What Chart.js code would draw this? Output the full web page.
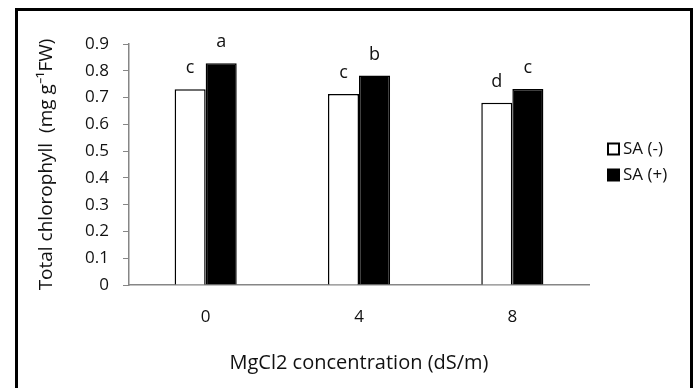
<!DOCTYPE html>
<html>
<head>
<meta charset="utf-8">
<script src="https://cdn.jsdelivr.net/npm/chart.js@4.4.0/dist/chart.umd.min.js"></script>
<style>
  html, body { margin: 0; padding: 0; background: #fff; }
  #wrap { position: relative; width: 695px; height: 388px; overflow: hidden; }
  #frame { position: absolute; left: 15px; top: 8px; width: 672px; height: 400px; border: 3px solid #000; pointer-events: none; }
  canvas { position: absolute; left: 0; top: 0; }
</style>
</head>
<body>
<div id="wrap">
  <canvas id="chart" width="695" height="388"></canvas>
  <div id="frame"></div>
</div>
<script>
// data
const categories = ['0', '4', '8'];
const saMinus = [0.731, 0.713, 0.681];
const saPlus = [0.828, 0.782, 0.732];
const lettersMinus = ['c', 'c', 'd'];
const lettersPlus = ['a', 'b', 'c'];
const yTicks = [0, 0.1, 0.2, 0.3, 0.4, 0.5, 0.6, 0.7, 0.8, 0.9];

const FONT = '"Open Sans", sans-serif';
const axisGray = '#868686';
const textColor = '#111111';

// letters over the bars
const letterPlugin = {
    id: 'letters',
    afterDatasetsDraw(chart) {
        const ctx = chart.ctx;
        const sets = [lettersMinus, lettersPlus];
        ctx.save();
        ctx.font = '18px ' + FONT;
        ctx.fillStyle = textColor;
        ctx.textAlign = 'center';
        ctx.textBaseline = 'middle';
        chart.data.datasets.forEach((ds, i) => {
            chart.getDatasetMeta(i).data.forEach((bar, j) => {
                ctx.fillText(sets[i][j], bar.x, bar.y - 21);
            });
        });
        ctx.restore();
    }
};

// legend on the right, drawn from the datasets
const sideLegend = {
    id: 'sideLegend',
    afterDraw(chart) {
        const ctx = chart.ctx;
        const x = chart.chartArea.right + 19;
        ctx.save();
        ctx.font = '17px ' + FONT;
        ctx.textBaseline = 'middle';
        chart.data.datasets.forEach((ds, i) => {
            const y = 149 + i * 26;
            ctx.fillStyle = ds.backgroundColor;
            ctx.fillRect(x, y - 5.5, 11, 11);
            ctx.strokeStyle = ds.borderColor;
            ctx.lineWidth = 2;
            ctx.strokeRect(x, y - 5.5, 11, 11);
            ctx.fillStyle = textColor;
            ctx.fillText(ds.label, x + 15, y);
        });
        ctx.restore();
    }
};

new Chart(document.getElementById('chart'), {
    type: 'bar',
    data: {
        labels: categories,
        datasets: [
            { label: 'SA (-)', data: saMinus, backgroundColor: '#ffffff', borderColor: '#000000', borderWidth: 1.5 },
            { label: 'SA (+)', data: saPlus, backgroundColor: '#000000', borderColor: '#000000', borderWidth: 1.5 }
        ]
    },
    options: {
        responsive: false,
        animation: false,
        layout: { padding: { left: 20, top: 44, right: 106, bottom: 0 } },
        datasets: { bar: { barPercentage: 1, categoryPercentage: 0.405 } },
        plugins: {
            legend: { display: false },
            tooltip: { enabled: false }
        },
        scales: {
            x: {
                grid: { display: false, drawTicks: false },
                border: { color: axisGray, width: 1.5 },
                ticks: { color: textColor, font: { family: FONT, size: 17 }, padding: 22 },
                title: { display: true, text: 'MgCl2 concentration (dS/m)', color: textColor, font: { family: FONT, size: 20 }, padding: { top: 18, bottom: 13 } },
                afterFit: s => { s.height = 103; }
            },
            y: {
                min: 0, max: 0.9,
                grid: { drawOnChartArea: false, drawTicks: true, tickLength: 6, color: axisGray },
                border: { color: axisGray, width: 1.5 },
                afterBuildTicks: s => { s.ticks = yTicks.map(v => ({ value: v })); },
                ticks: { color: textColor, font: { family: FONT, size: 17 }, padding: 14, callback: v => String(v) },
                title: { display: true, text: 'Total chlorophyll  (mg g\u207B\u00B9FW)', color: textColor, font: { family: FONT, size: 19 }, padding: { top: 15, bottom: 4 } },
                afterFit: s => { s.width = 109; }
            }
        }
    },
    plugins: [letterPlugin, sideLegend]
});
</script>
</body>
</html>
